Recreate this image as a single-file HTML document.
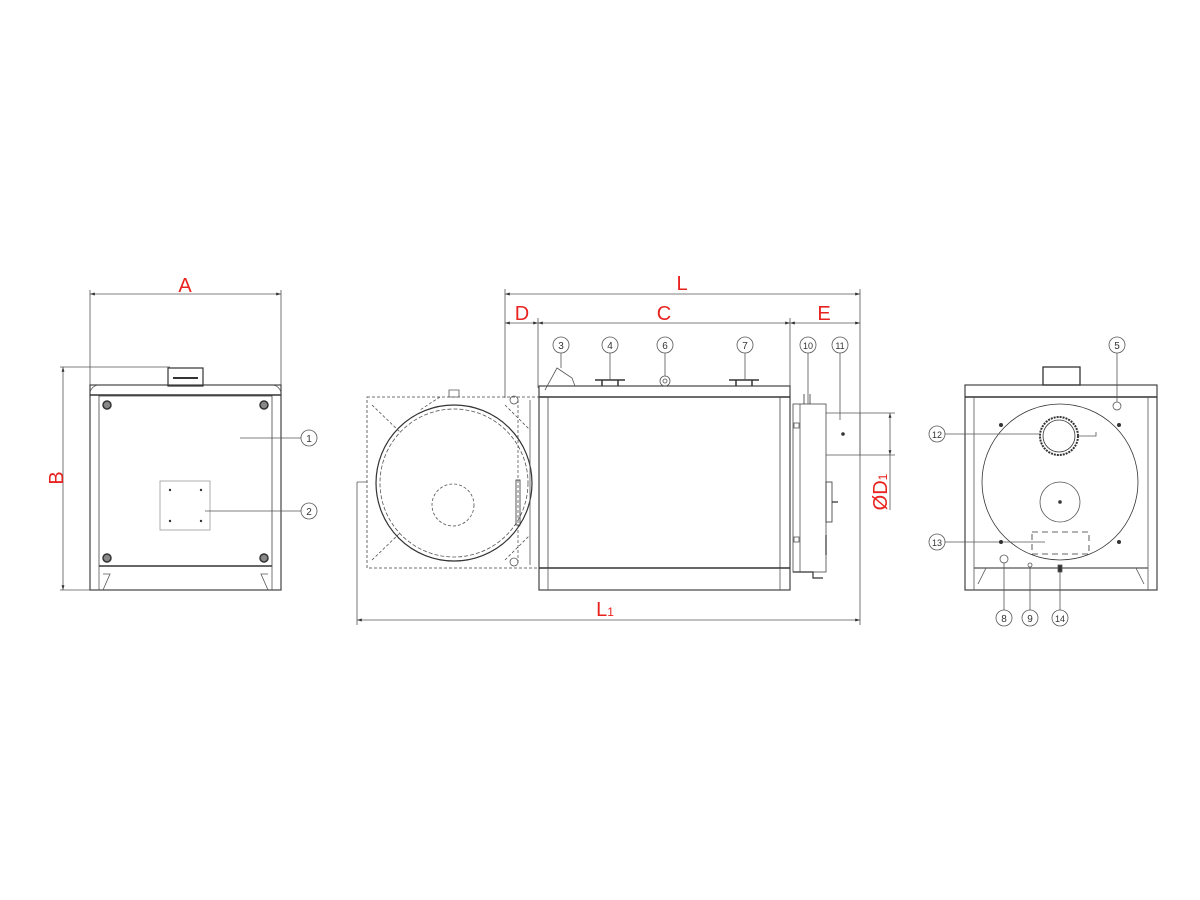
<!DOCTYPE html>
<html><head><meta charset="utf-8"><style>
html,body{margin:0;padding:0;background:#fff;}
svg{display:block;font-family:"Liberation Sans",sans-serif;}
.r{fill:#e8231f;font-size:20px;}
.n{font-size:10px;fill:#333;text-anchor:middle;}
</style></head><body>
<svg width="1200" height="900" viewBox="0 0 1200 900" xmlns="http://www.w3.org/2000/svg">
<defs>
<marker id="a" viewBox="0 0 10 10" refX="10" refY="5" markerWidth="8" markerHeight="6" orient="auto-start-reverse"><path d="M0,2 L10,5 L0,8 z" fill="#333"/></marker>
</defs>
<g fill="none" stroke="#555" stroke-width="0.8">
<line x1="90" y1="294" x2="281" y2="294" marker-start="url(#a)" marker-end="url(#a)"/>
<line x1="90" y1="290" x2="90" y2="385"/><line x1="281" y1="290" x2="281" y2="385"/>
<line x1="63" y1="367" x2="63" y2="590" marker-start="url(#a)" marker-end="url(#a)"/>
<line x1="60" y1="367" x2="170" y2="367"/><line x1="60" y1="590" x2="90" y2="590"/>
<rect x="90" y="385" width="191" height="205" stroke="#444" stroke-width="1.2"/>
<line x1="90" y1="395" x2="281" y2="395" stroke-width="1.5" stroke="#333"/>
<path d="M90,392 Q92,386 98,385 M281,392 Q279,386 273,385"/>
<rect x="99" y="396" width="173" height="170" stroke="#444"/>
<line x1="99" y1="566" x2="272" y2="566" stroke-width="1.5" stroke="#333"/>
<line x1="99" y1="566" x2="99" y2="590"/><line x1="272" y1="566" x2="272" y2="590"/>
<path d="M103,574 L110,574 L103,590 M268,574 L261,574 L268,590"/>
<rect x="168" y="368" width="35" height="18" stroke="#333" stroke-width="1.2"/>
<line x1="173" y1="378" x2="198" y2="378" stroke-width="2" stroke="#333"/>
<rect x="160" y="481" width="50" height="49" stroke="#999"/>
<line x1="240" y1="438" x2="301" y2="438"/><line x1="205" y1="511" x2="301" y2="511"/>
<circle cx="309" cy="438" r="8"/><circle cx="309" cy="511" r="8"/>
<line x1="505" y1="294" x2="860" y2="294" marker-start="url(#a)" marker-end="url(#a)"/>
<line x1="505" y1="323" x2="538" y2="323" marker-start="url(#a)" marker-end="url(#a)"/>
<line x1="538" y1="323" x2="790" y2="323" marker-start="url(#a)" marker-end="url(#a)"/>
<line x1="790" y1="323" x2="860" y2="323" marker-start="url(#a)" marker-end="url(#a)"/>
<line x1="357" y1="620" x2="860" y2="620" marker-start="url(#a)" marker-end="url(#a)"/>
<line x1="505" y1="289" x2="505" y2="398"/><line x1="538" y1="318" x2="538" y2="388"/>
<line x1="790" y1="318" x2="790" y2="388"/><line x1="860" y1="289" x2="860" y2="625"/>
<line x1="357" y1="482" x2="357" y2="625"/>
<rect x="539" y="386" width="251" height="204" stroke="#444" stroke-width="1.2"/>
<line x1="539" y1="397" x2="790" y2="397" stroke-width="1.5" stroke="#333"/>
<rect x="548" y="397" width="232" height="171" stroke="#444"/>
<line x1="539" y1="568" x2="790" y2="568" stroke-width="1.5" stroke="#333"/>
<line x1="548" y1="568" x2="548" y2="590"/><line x1="780" y1="568" x2="780" y2="590"/>
<path d="M595,380 h30 M602,380 v6 M618,380 v6 M729,380 h30 M736,380 v6 M752,380 v6" stroke="#333" stroke-width="1.5"/>
<circle cx="665" cy="381" r="5"/><circle cx="665" cy="381" r="2"/>
<path d="M545,390 L557,368 L572,378 L575,386" />
<rect x="367" y="397" width="172" height="171" stroke-dasharray="3,2" stroke="#444"/>
<circle cx="454" cy="483" r="78" stroke="#333" stroke-width="1.2"/>
<circle cx="454" cy="483" r="74" stroke-dasharray="4,2"/>
<circle cx="453" cy="505" r="21" stroke-dasharray="3,2"/>
<path d="M372,405 L400,432 M372,560 L400,533 M505,405 L530,430 M505,560 L530,535 M440,397 L420,410" stroke-dasharray="3,2"/>
<line x1="518" y1="400" x2="518" y2="565" stroke-dasharray="3,2"/>
<line x1="530" y1="400" x2="530" y2="565"/>
<rect x="516" y="480" width="4" height="45" stroke="#333"/>
<path d="M357,482 h10 M449,390 h10 v7 h-10z"/>
<circle cx="514" cy="400" r="4"/><circle cx="514" cy="562" r="4"/>
<rect x="793" y="404" width="33" height="168" stroke="#444"/>
<line x1="800" y1="404" x2="800" y2="572"/>
<path d="M804,404 v-10 M810,404 v-10" stroke="#333"/>
<path d="M826,413 H895 M826,455 H895 M860,413 V455"/>
<line x1="890" y1="413" x2="890" y2="455" marker-start="url(#a)" marker-end="url(#a)"/>
<line x1="890" y1="455" x2="890" y2="510"/>
<rect x="826" y="482" width="6" height="40" stroke="#333"/>
<path d="M832,502 h6 M826,535 v20 M793,572 h20 v6 h10" stroke="#333" stroke-width="1.2"/>
<rect x="794" y="423" width="5" height="5"/><rect x="794" y="537" width="5" height="5"/>
<path d="M561,353 V368 M610,353 V380 M665,353 V376 M745,353 V380 M808,353 V404 M840,353 V420"/>
<circle cx="561" cy="345" r="8"/><circle cx="610" cy="345" r="8"/><circle cx="665" cy="345" r="8"/>
<circle cx="745" cy="345" r="8"/><circle cx="808" cy="345" r="8"/><circle cx="840" cy="345" r="8"/>
<rect x="965" y="385" width="192" height="205" stroke="#444" stroke-width="1.2"/>
<line x1="965" y1="397" x2="1157" y2="397" stroke-width="1.5" stroke="#333"/>
<line x1="974" y1="397" x2="974" y2="590"/><line x1="1148" y1="397" x2="1148" y2="590"/>
<line x1="974" y1="568" x2="1148" y2="568" stroke-width="1.2"/>
<path d="M978,568 L986,568 L978,584 M1144,568 L1136,568 L1144,584"/>
<rect x="1043" y="367" width="37" height="18" stroke="#333" stroke-width="1.3"/>
<circle cx="1060" cy="482" r="78" stroke="#333"/>
<circle cx="1060" cy="502" r="20"/><circle cx="1060" cy="502" r="1.5" fill="#333"/>
<circle cx="1059" cy="436" r="19" stroke="#333" stroke-dasharray="2,1" stroke-width="2"/>
<circle cx="1059" cy="436" r="16" stroke="#333"/>
<path d="M1078,436 h18 v-4"/>
<rect x="1032" y="532" width="57" height="22" stroke="#333" stroke-dasharray="6,4"/>
<circle cx="1117" cy="406" r="4"/><circle cx="1004" cy="559" r="4"/><circle cx="1030" cy="565" r="2"/>
<rect x="1058" y="565" width="4" height="7" fill="#333"/>
<path d="M1117,353 V402 M945,434 H1040 M945,542 H1045 M1004,563 V610 M1030,567 V610 M1060,572 V610"/>
<circle cx="1117" cy="345" r="8"/><circle cx="937" cy="434" r="8"/><circle cx="937" cy="542" r="8"/>
<circle cx="1004" cy="618" r="8"/><circle cx="1030" cy="618" r="8"/><circle cx="1060" cy="618" r="8"/>
</g>
<g fill="#888" stroke="#333" stroke-width="1.5">
<circle cx="107" cy="405" r="4"/><circle cx="264" cy="405" r="4"/><circle cx="107" cy="558" r="4"/><circle cx="264" cy="558" r="4"/>
</g>
<g fill="#333">
<circle cx="170" cy="490" r="1.2"/><circle cx="201" cy="490" r="1.2"/><circle cx="170" cy="521" r="1.2"/><circle cx="201" cy="521" r="1.2"/>
<circle cx="843" cy="434" r="1.8"/>
<circle cx="1001" cy="425" r="2"/><circle cx="1119" cy="425" r="2"/><circle cx="1001" cy="542" r="2"/><circle cx="1119" cy="542" r="2"/>
</g>
<text class="r" x="185" y="292" text-anchor="middle">A</text>
<text class="r" transform="translate(63,478) rotate(-90)" text-anchor="middle">B</text>
<text class="r" x="682" y="290" text-anchor="middle">L</text>
<text class="r" x="522" y="320" text-anchor="middle">D</text>
<text class="r" x="664" y="320" text-anchor="middle">C</text>
<text class="r" x="824" y="320" text-anchor="middle">E</text>
<text class="r" x="605" y="616" text-anchor="middle">L<tspan font-size="12">1</tspan></text>
<text class="r" transform="translate(887,492) rotate(-90)" text-anchor="middle">ØD<tspan font-size="12">1</tspan></text>
<g class="n">
<text x="309" y="442">1</text><text x="309" y="515">2</text>
<text x="561" y="349">3</text><text x="610" y="349">4</text><text x="665" y="349">6</text><text x="745" y="349">7</text>
<text x="808" y="349" font-size="9">10</text><text x="840" y="349" font-size="9">11</text>
<text x="1117" y="349">5</text><text x="937" y="438" font-size="9">12</text><text x="937" y="546" font-size="9">13</text>
<text x="1004" y="622">8</text><text x="1030" y="622">9</text><text x="1060" y="622" font-size="9">14</text>
</g>
</svg>
</body></html>
